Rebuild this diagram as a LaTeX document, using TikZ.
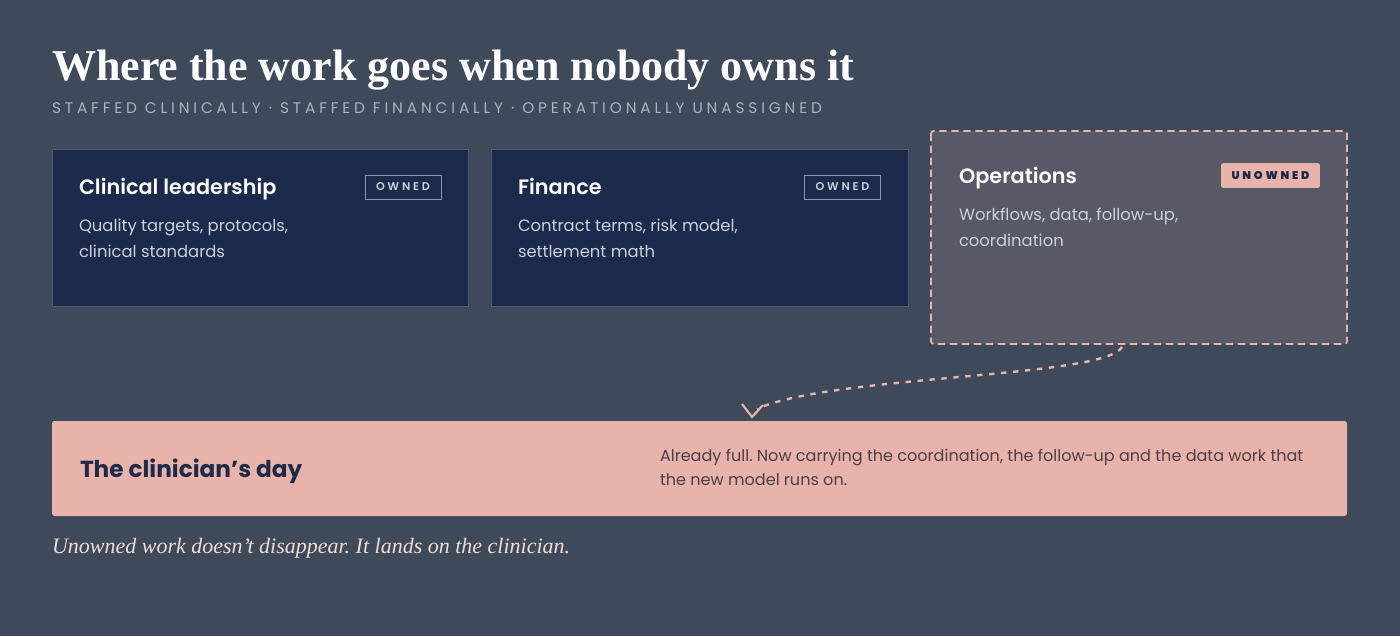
\documentclass[tikz,border=0pt]{standalone}
\usepackage{fontspec}
\setmainfont{Poppins}
\newfontfamily\serifT{Liberation Serif}
\newfontfamily\semib{Poppins SemiBold}
\newfontfamily\spaced[LetterSpace=25.2]{Poppins}
\newfontfamily\badgef[LetterSpace=25]{Poppins SemiBold}
\usetikzlibrary{arrows.meta}
\frenchspacing
\definecolor{bg}{HTML}{3E4A59}
\definecolor{card}{HTML}{1C2A4B}
\definecolor{cardborder}{HTML}{4A5A78}
\definecolor{opsfill}{HTML}{575A66}
\definecolor{pink}{HTML}{E8B3AB}
\definecolor{subgrey}{HTML}{A9B2BF}
\definecolor{bodylight}{HTML}{C9D1DD}
\definecolor{navy}{HTML}{1E2B48}
\definecolor{bottombody}{HTML}{4D3F45}
\definecolor{badgeline}{HTML}{8A96AA}
\definecolor{caption}{HTML}{F0DCD5}
\tikzset{
  txt/.style={anchor=base west, inner sep=0pt, outer sep=0pt},
  cardbox/.style={draw=cardborder, fill=card, line width=0.7pt},
  cardtitle/.style={txt, text=white, font=\semib\fontsize{15.6}{18}\selectfont},
  cardbody/.style={txt, text=bodylight, font=\fontsize{12.3}{15}\selectfont},
  ownedbadge/.style={draw=badgeline, line width=0.7pt, text=bodylight, font=\badgef\fontsize{8.4}{10}\selectfont, inner sep=0pt, minimum width=57pt, minimum height=18pt},
}
\begin{document}
\begin{tikzpicture}[x=0.75pt,y=-0.75pt]
\useasboundingbox[fill=bg] (0,0) rectangle (1400,636);
% title
\node[txt, text=white, font=\serifT\bfseries\fontsize{33}{38}\selectfont] (title) at (52,80) {Where the work goes when nobody owns it};
\node[txt, text=subgrey, font=\spaced\fontsize{11.5}{13}\selectfont] (subtitle) at (52,113) {STAFFED CLINICALLY · STAFFED FINANCIALLY · OPERATIONALLY UNASSIGNED};
% cards
\draw[cardbox] (52,149) rectangle (468,306);
\node[cardtitle] (c1t) at (79,194) {Clinical leadership};
\node[cardbody] (c1b1) at (79,231) {Quality targets, protocols,};
\node[cardbody] (c1b2) at (79,257) {clinical standards};
\node[ownedbadge] (c1badge) at (403,187) {OWNED};

\draw[cardbox] (491,149) rectangle (908,306);
\node[cardtitle] (c2t) at (518,194) {Finance};
\node[cardbody] (c2b1) at (518,231) {Contract terms, risk model,};
\node[cardbody] (c2b2) at (518,257) {settlement math};
\node[ownedbadge] (c2badge) at (842.5,187) {OWNED};

% operations
\draw[fill=opsfill, draw=pink, line width=1.3pt, dash pattern=on 5.5pt off 3.5pt, rounded corners=2pt] (931,131) rectangle (1347,344);
\coordinate (opsout) at (1122,347);
\node[cardtitle] (c3t) at (959,183) {Operations};
\node[cardbody] (c3b1) at (959,220) {Workflows, data, follow-up,};
\node[cardbody] (c3b2) at (959,246) {coordination};
\node[fill=pink, rounded corners=1.5pt, text=navy, font=\badgef\bfseries\fontsize{8.4}{10}\selectfont, inner sep=0pt, minimum width=74pt, minimum height=18.5pt] (c3badge) at (1270.5,175.5) {UNOWNED};

% bottom
\fill[pink, rounded corners=2pt] (52,421) rectangle (1347,516);
\node[txt, text=navy, font=\bfseries\fontsize{17.4}{22}\selectfont] (dayt) at (80,477) {The clinician’s day};
\node[txt, text=bottombody, font=\fontsize{12.05}{14}\selectfont] (dayb1) at (660,461) {Already full. Now carrying the coordination, the follow-up and the data work that};
\node[txt, text=bottombody, font=\fontsize{12.05}{14}\selectfont] (dayb2) at (660,485) {the new model runs on.};

% arrow
\coordinate (tip) at (752,417);
\draw[pink, line width=1.8pt, dash pattern=on 4pt off 5pt] (opsout) .. controls (1105,378) and (830,375) .. (757,409);
\draw[pink, line width=1.6pt, line join=miter] ([shift={(-10,-13)}]tip) -- (tip) -- ([shift={(11,-12)}]tip);

% caption
\node[txt, text=caption, font=\serifT\itshape\fontsize{16.5}{20}\selectfont] (cap) at (52,553) {Unowned work doesn’t disappear. It lands on the clinician.};
\end{tikzpicture}
\end{document}
